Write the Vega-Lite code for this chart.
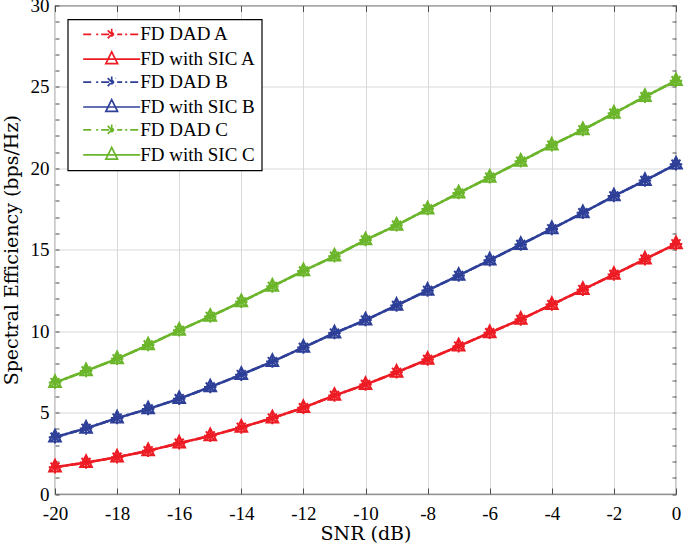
{
  "$schema": "https://vega.github.io/schema/vega-lite/v6.json",
  "width": 621,
  "height": 488.5,
  "autosize": {"type": "none"},
  "padding": {"left": 55, "top": 5.5, "right": 9, "bottom": 55},
  "background": "white",
  "config": {
    "view": {"stroke": "#4d4d4d", "strokeWidth": 1.2},
    "axis": {
      "labelFont": "Liberation Serif",
      "labelFontSize": 19,
      "labelColor": "#000000",
      "titleFont": "DejaVu Serif",
      "titleFontSize": 19,
      "titleFontWeight": "normal",
      "titleColor": "#000000",
      "domain": false,
      "gridColor": "#d9d9d9",
      "gridWidth": 1,
      "tickColor": "#4d4d4d",
      "tickWidth": 1
    },
    "legend": {
      "strokeColor": "#000000",
      "strokeWidth": 1.2,
      "fillColor": "#ffffff",
      "padding": 5.5
    }
  },
  "data": {
    "values": [
      {"x": -20, "y": 1.65, "series": "FD DAD A", "type": "DAD"},
      {"x": -19, "y": 1.93, "series": "FD DAD A", "type": "DAD"},
      {"x": -18, "y": 2.26, "series": "FD DAD A", "type": "DAD"},
      {"x": -17, "y": 2.65, "series": "FD DAD A", "type": "DAD"},
      {"x": -16, "y": 3.12, "series": "FD DAD A", "type": "DAD"},
      {"x": -15, "y": 3.57, "series": "FD DAD A", "type": "DAD"},
      {"x": -14, "y": 4.09, "series": "FD DAD A", "type": "DAD"},
      {"x": -13, "y": 4.66, "series": "FD DAD A", "type": "DAD"},
      {"x": -12, "y": 5.3, "series": "FD DAD A", "type": "DAD"},
      {"x": -11, "y": 6.05, "series": "FD DAD A", "type": "DAD"},
      {"x": -10, "y": 6.72, "series": "FD DAD A", "type": "DAD"},
      {"x": -9, "y": 7.47, "series": "FD DAD A", "type": "DAD"},
      {"x": -8, "y": 8.26, "series": "FD DAD A", "type": "DAD"},
      {"x": -7, "y": 9.08, "series": "FD DAD A", "type": "DAD"},
      {"x": -6, "y": 9.9, "series": "FD DAD A", "type": "DAD"},
      {"x": -5, "y": 10.72, "series": "FD DAD A", "type": "DAD"},
      {"x": -4, "y": 11.63, "series": "FD DAD A", "type": "DAD"},
      {"x": -3, "y": 12.55, "series": "FD DAD A", "type": "DAD"},
      {"x": -2, "y": 13.48, "series": "FD DAD A", "type": "DAD"},
      {"x": -1, "y": 14.42, "series": "FD DAD A", "type": "DAD"},
      {"x": 0, "y": 15.36, "series": "FD DAD A", "type": "DAD"},
      {"x": -20, "y": 1.65, "series": "FD with SIC A", "type": "SIC"},
      {"x": -19, "y": 1.93, "series": "FD with SIC A", "type": "SIC"},
      {"x": -18, "y": 2.26, "series": "FD with SIC A", "type": "SIC"},
      {"x": -17, "y": 2.65, "series": "FD with SIC A", "type": "SIC"},
      {"x": -16, "y": 3.12, "series": "FD with SIC A", "type": "SIC"},
      {"x": -15, "y": 3.57, "series": "FD with SIC A", "type": "SIC"},
      {"x": -14, "y": 4.09, "series": "FD with SIC A", "type": "SIC"},
      {"x": -13, "y": 4.66, "series": "FD with SIC A", "type": "SIC"},
      {"x": -12, "y": 5.3, "series": "FD with SIC A", "type": "SIC"},
      {"x": -11, "y": 6.05, "series": "FD with SIC A", "type": "SIC"},
      {"x": -10, "y": 6.72, "series": "FD with SIC A", "type": "SIC"},
      {"x": -9, "y": 7.47, "series": "FD with SIC A", "type": "SIC"},
      {"x": -8, "y": 8.26, "series": "FD with SIC A", "type": "SIC"},
      {"x": -7, "y": 9.08, "series": "FD with SIC A", "type": "SIC"},
      {"x": -6, "y": 9.9, "series": "FD with SIC A", "type": "SIC"},
      {"x": -5, "y": 10.72, "series": "FD with SIC A", "type": "SIC"},
      {"x": -4, "y": 11.63, "series": "FD with SIC A", "type": "SIC"},
      {"x": -3, "y": 12.55, "series": "FD with SIC A", "type": "SIC"},
      {"x": -2, "y": 13.48, "series": "FD with SIC A", "type": "SIC"},
      {"x": -1, "y": 14.42, "series": "FD with SIC A", "type": "SIC"},
      {"x": 0, "y": 15.36, "series": "FD with SIC A", "type": "SIC"},
      {"x": -20, "y": 3.49, "series": "FD DAD B", "type": "DAD"},
      {"x": -19, "y": 4.03, "series": "FD DAD B", "type": "DAD"},
      {"x": -18, "y": 4.66, "series": "FD DAD B", "type": "DAD"},
      {"x": -17, "y": 5.22, "series": "FD DAD B", "type": "DAD"},
      {"x": -16, "y": 5.85, "series": "FD DAD B", "type": "DAD"},
      {"x": -15, "y": 6.57, "series": "FD DAD B", "type": "DAD"},
      {"x": -14, "y": 7.33, "series": "FD DAD B", "type": "DAD"},
      {"x": -13, "y": 8.13, "series": "FD DAD B", "type": "DAD"},
      {"x": -12, "y": 9.0, "series": "FD DAD B", "type": "DAD"},
      {"x": -11, "y": 9.88, "series": "FD DAD B", "type": "DAD"},
      {"x": -10, "y": 10.68, "series": "FD DAD B", "type": "DAD"},
      {"x": -9, "y": 11.58, "series": "FD DAD B", "type": "DAD"},
      {"x": -8, "y": 12.5, "series": "FD DAD B", "type": "DAD"},
      {"x": -7, "y": 13.42, "series": "FD DAD B", "type": "DAD"},
      {"x": -6, "y": 14.36, "series": "FD DAD B", "type": "DAD"},
      {"x": -5, "y": 15.32, "series": "FD DAD B", "type": "DAD"},
      {"x": -4, "y": 16.28, "series": "FD DAD B", "type": "DAD"},
      {"x": -3, "y": 17.27, "series": "FD DAD B", "type": "DAD"},
      {"x": -2, "y": 18.3, "series": "FD DAD B", "type": "DAD"},
      {"x": -1, "y": 19.25, "series": "FD DAD B", "type": "DAD"},
      {"x": 0, "y": 20.25, "series": "FD DAD B", "type": "DAD"},
      {"x": -20, "y": 3.49, "series": "FD with SIC B", "type": "SIC"},
      {"x": -19, "y": 4.03, "series": "FD with SIC B", "type": "SIC"},
      {"x": -18, "y": 4.66, "series": "FD with SIC B", "type": "SIC"},
      {"x": -17, "y": 5.22, "series": "FD with SIC B", "type": "SIC"},
      {"x": -16, "y": 5.85, "series": "FD with SIC B", "type": "SIC"},
      {"x": -15, "y": 6.57, "series": "FD with SIC B", "type": "SIC"},
      {"x": -14, "y": 7.33, "series": "FD with SIC B", "type": "SIC"},
      {"x": -13, "y": 8.13, "series": "FD with SIC B", "type": "SIC"},
      {"x": -12, "y": 9.0, "series": "FD with SIC B", "type": "SIC"},
      {"x": -11, "y": 9.88, "series": "FD with SIC B", "type": "SIC"},
      {"x": -10, "y": 10.68, "series": "FD with SIC B", "type": "SIC"},
      {"x": -9, "y": 11.58, "series": "FD with SIC B", "type": "SIC"},
      {"x": -8, "y": 12.5, "series": "FD with SIC B", "type": "SIC"},
      {"x": -7, "y": 13.42, "series": "FD with SIC B", "type": "SIC"},
      {"x": -6, "y": 14.36, "series": "FD with SIC B", "type": "SIC"},
      {"x": -5, "y": 15.32, "series": "FD with SIC B", "type": "SIC"},
      {"x": -4, "y": 16.28, "series": "FD with SIC B", "type": "SIC"},
      {"x": -3, "y": 17.27, "series": "FD with SIC B", "type": "SIC"},
      {"x": -2, "y": 18.3, "series": "FD with SIC B", "type": "SIC"},
      {"x": -1, "y": 19.25, "series": "FD with SIC B", "type": "SIC"},
      {"x": 0, "y": 20.25, "series": "FD with SIC B", "type": "SIC"},
      {"x": -20, "y": 6.84, "series": "FD DAD C", "type": "DAD"},
      {"x": -19, "y": 7.56, "series": "FD DAD C", "type": "DAD"},
      {"x": -18, "y": 8.3, "series": "FD DAD C", "type": "DAD"},
      {"x": -17, "y": 9.15, "series": "FD DAD C", "type": "DAD"},
      {"x": -16, "y": 10.05, "series": "FD DAD C", "type": "DAD"},
      {"x": -15, "y": 10.9, "series": "FD DAD C", "type": "DAD"},
      {"x": -14, "y": 11.8, "series": "FD DAD C", "type": "DAD"},
      {"x": -13, "y": 12.75, "series": "FD DAD C", "type": "DAD"},
      {"x": -12, "y": 13.7, "series": "FD DAD C", "type": "DAD"},
      {"x": -11, "y": 14.6, "series": "FD DAD C", "type": "DAD"},
      {"x": -10, "y": 15.6, "series": "FD DAD C", "type": "DAD"},
      {"x": -9, "y": 16.5, "series": "FD DAD C", "type": "DAD"},
      {"x": -8, "y": 17.5, "series": "FD DAD C", "type": "DAD"},
      {"x": -7, "y": 18.48, "series": "FD DAD C", "type": "DAD"},
      {"x": -6, "y": 19.45, "series": "FD DAD C", "type": "DAD"},
      {"x": -5, "y": 20.43, "series": "FD DAD C", "type": "DAD"},
      {"x": -4, "y": 21.42, "series": "FD DAD C", "type": "DAD"},
      {"x": -3, "y": 22.36, "series": "FD DAD C", "type": "DAD"},
      {"x": -2, "y": 23.38, "series": "FD DAD C", "type": "DAD"},
      {"x": -1, "y": 24.4, "series": "FD DAD C", "type": "DAD"},
      {"x": 0, "y": 25.38, "series": "FD DAD C", "type": "DAD"},
      {"x": -20, "y": 6.84, "series": "FD with SIC C", "type": "SIC"},
      {"x": -19, "y": 7.56, "series": "FD with SIC C", "type": "SIC"},
      {"x": -18, "y": 8.3, "series": "FD with SIC C", "type": "SIC"},
      {"x": -17, "y": 9.15, "series": "FD with SIC C", "type": "SIC"},
      {"x": -16, "y": 10.05, "series": "FD with SIC C", "type": "SIC"},
      {"x": -15, "y": 10.9, "series": "FD with SIC C", "type": "SIC"},
      {"x": -14, "y": 11.8, "series": "FD with SIC C", "type": "SIC"},
      {"x": -13, "y": 12.75, "series": "FD with SIC C", "type": "SIC"},
      {"x": -12, "y": 13.7, "series": "FD with SIC C", "type": "SIC"},
      {"x": -11, "y": 14.6, "series": "FD with SIC C", "type": "SIC"},
      {"x": -10, "y": 15.6, "series": "FD with SIC C", "type": "SIC"},
      {"x": -9, "y": 16.5, "series": "FD with SIC C", "type": "SIC"},
      {"x": -8, "y": 17.5, "series": "FD with SIC C", "type": "SIC"},
      {"x": -7, "y": 18.48, "series": "FD with SIC C", "type": "SIC"},
      {"x": -6, "y": 19.45, "series": "FD with SIC C", "type": "SIC"},
      {"x": -5, "y": 20.43, "series": "FD with SIC C", "type": "SIC"},
      {"x": -4, "y": 21.42, "series": "FD with SIC C", "type": "SIC"},
      {"x": -3, "y": 22.36, "series": "FD with SIC C", "type": "SIC"},
      {"x": -2, "y": 23.38, "series": "FD with SIC C", "type": "SIC"},
      {"x": -1, "y": 24.4, "series": "FD with SIC C", "type": "SIC"},
      {"x": 0, "y": 25.38, "series": "FD with SIC C", "type": "SIC"}
    ]
  },
  "layer": [
    {
      "mark": {"type": "line", "strokeWidth": 2.5},
      "encoding": {
        "x": {
          "field": "x", "type": "quantitative",
          "scale": {"domain": [-20, 0], "nice": false, "zero": false},
          "axis": {
            "orient": "bottom",
            "values": [-20, -18, -16, -14, -12, -10, -8, -6, -4, -2, 0],
            "ticks": false, "grid": true, "labelPadding": 10,
            "labelFlush": false, "labelOverlap": false,
            "labelExpr": "'' + datum.value",
            "title": "SNR (dB)", "titleY": 45, "titleBaseline": "alphabetic"
          }
        },
        "y": {
          "field": "y", "type": "quantitative",
          "scale": {"domain": [0, 30], "nice": false, "zero": false},
          "axis": {
            "orient": "left",
            "values": [0, 5, 10, 15, 20, 25, 30],
            "ticks": false, "grid": true, "labelPadding": 6,
            "labelFlush": false, "labelOverlap": false,
            "title": "Spectral Efficiency (bps/Hz)", "titleX": -38, "titleBaseline": "alphabetic"
          }
        },
        "color": {
          "field": "series", "type": "nominal",
          "scale": {
            "domain": ["FD DAD A", "FD with SIC A", "FD DAD B", "FD with SIC B", "FD DAD C", "FD with SIC C"],
            "range": ["#ed1c24", "#ed1c24", "#2e3f98", "#2e3f98", "#6bb52b", "#6bb52b"]
          }
        },
        "strokeDash": {
          "field": "series", "type": "nominal",
          "scale": {
            "domain": ["FD DAD A", "FD with SIC A", "FD DAD B", "FD with SIC B", "FD DAD C", "FD with SIC C"],
            "range": [[8, 3, 2, 3], [1, 0], [8, 3, 2, 3], [1, 0], [8, 3, 2, 3], [1, 0]]
          },
          "legend": null
        }
      }
    },
    {
      "transform": [{"filter": "datum.type === 'DAD'"}],
      "mark": {
        "type": "point",
        "shape": "M0,-1.25L0,1.25M-1.25,0L1.25,0M-0.9,-0.9L0.9,0.9M-0.9,0.9L0.9,-0.9",
        "size": 100, "strokeWidth": 2, "filled": false, "opacity": 1
      },
      "encoding": {
        "x": {
          "field": "x", "type": "quantitative",
          "scale": {"domain": [-20, 0], "nice": false, "zero": false},
          "axis": {
            "orient": "top",
            "values": [-20, -18, -16, -14, -12, -10, -8, -6, -4, -2, 0],
            "labels": false, "grid": false, "ticks": true, "tickSize": -6, "title": null
          }
        },
        "y": {
          "field": "y", "type": "quantitative",
          "scale": {"domain": [0, 30], "nice": false, "zero": false},
          "axis": {
            "orient": "right",
            "values": [0, 1, 2, 3, 4, 5, 6, 7, 8, 9, 10, 11, 12, 13, 14, 15, 16, 17, 18, 19, 20, 21, 22, 23, 24, 25, 26, 27, 28, 29, 30],
            "labels": false, "grid": false, "ticks": true, "tickSize": -4, "title": null
          }
        },
        "color": {"field": "series", "type": "nominal"}
      }
    },
    {
      "transform": [{"filter": "datum.type === 'SIC'"}],
      "mark": {
        "type": "point",
        "shape": "M0,-1.47L1.17,0.87L-1.17,0.87Z",
        "size": 100, "strokeWidth": 2, "filled": false, "opacity": 1
      },
      "encoding": {
        "x": {
          "field": "x", "type": "quantitative",
          "scale": {"domain": [-20, 0], "nice": false, "zero": false},
          "axis": {
            "orient": "bottom",
            "values": [-20, -18, -16, -14, -12, -10, -8, -6, -4, -2, 0],
            "labels": false, "grid": false, "ticks": true, "tickSize": -6, "title": null
          }
        },
        "y": {
          "field": "y", "type": "quantitative",
          "scale": {"domain": [0, 30], "nice": false, "zero": false},
          "axis": {
            "orient": "left",
            "values": [0, 1, 2, 3, 4, 5, 6, 7, 8, 9, 10, 11, 12, 13, 14, 15, 16, 17, 18, 19, 20, 21, 22, 23, 24, 25, 26, 27, 28, 29, 30],
            "labels": false, "grid": false, "ticks": true, "tickSize": -4, "title": null
          }
        },
        "color": {"field": "series", "type": "nominal"}
      }
    },
    {
      "mark": {"type": "point", "size": 100, "strokeWidth": 1.5, "filled": false, "opacity": 0},
      "encoding": {
        "x": {"field": "x", "type": "quantitative", "scale": {"domain": [-20, 0], "nice": false, "zero": false}, "axis": null},
        "y": {"field": "y", "type": "quantitative", "scale": {"domain": [0, 30], "nice": false, "zero": false}, "axis": null},
        "color": {
          "field": "series", "type": "nominal",
          "legend": {
            "orient": "none", "legendX": 12.7, "legendY": 13.8, "direction": "vertical",
            "title": null,
            "labelFont": "Liberation Serif", "labelFontSize": 19, "labelColor": "#000000",
            "symbolSize": 100, "symbolStrokeWidth": 1.7, "symbolOpacity": 1, "symbolOffset": 29, "labelOffset": 19,
            "rowPadding": 2.9
          }
        },
        "shape": {
          "field": "series", "type": "nominal",
          "scale": {
            "domain": ["FD DAD A", "FD with SIC A", "FD DAD B", "FD with SIC B", "FD DAD C", "FD with SIC C"],
            "range": [
              "M-5.7,0L-3.7,0M-3.1,0L-2.7,0M-2.1,0L2.1,0M2.7,0L3.1,0M3.7,0L5.7,0M0,-1.1L0,1.1M-0.8,-0.8L0.8,0.8M-0.8,0.8L0.8,-0.8",
              "M-5.7,0L5.7,0M0,-1.47L1.17,0.87L-1.17,0.87Z",
              "M-5.7,0L-3.7,0M-3.1,0L-2.7,0M-2.1,0L2.1,0M2.7,0L3.1,0M3.7,0L5.7,0M0,-1.1L0,1.1M-0.8,-0.8L0.8,0.8M-0.8,0.8L0.8,-0.8",
              "M-5.7,0L5.7,0M0,-1.47L1.17,0.87L-1.17,0.87Z",
              "M-5.7,0L-3.7,0M-3.1,0L-2.7,0M-2.1,0L2.1,0M2.7,0L3.1,0M3.7,0L5.7,0M0,-1.1L0,1.1M-0.8,-0.8L0.8,0.8M-0.8,0.8L0.8,-0.8",
              "M-5.7,0L5.7,0M0,-1.47L1.17,0.87L-1.17,0.87Z"
            ]
          },
          "legend": {
            "orient": "none", "legendX": 12.7, "legendY": 13.8, "direction": "vertical",
            "title": null,
            "labelFont": "Liberation Serif", "labelFontSize": 19, "labelColor": "#000000",
            "symbolSize": 100, "symbolStrokeWidth": 1.7, "symbolOpacity": 1, "symbolOffset": 29, "labelOffset": 19,
            "rowPadding": 2.9
          }
        }
      }
    }
  ],
  "resolve": {"axis": {"x": "independent", "y": "independent"}}
}
